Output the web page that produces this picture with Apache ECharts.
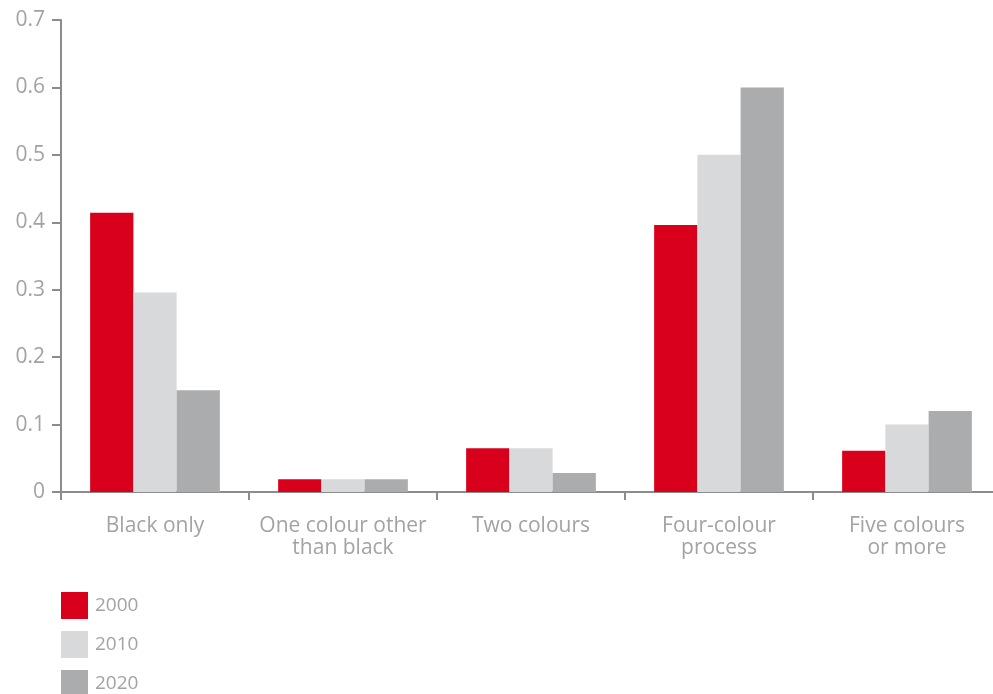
<!DOCTYPE html>
<html><head><meta charset="utf-8">
<script src="https://cdn.jsdelivr.net/npm/echarts@6/dist/echarts.min.js"></script>
<style>html,body{margin:0;padding:0;background:#fff}#c{width:993px;height:694px}</style>
</head><body><div id="c"></div>
<script>
var categories = ['Black only', 'One colour other\nthan black', 'Two colours', 'Four-colour\nprocess', 'Five colours\nor more'];
var seriesNames = ['2000', '2010', '2020'];
var values2000 = [0.414, 0.019, 0.065, 0.396, 0.061];
var values2010 = [0.296, 0.019, 0.065, 0.5, 0.1];
var values2020 = [0.151, 0.019, 0.028, 0.6, 0.12];
var colors = ['#D9001B', '#D8D9DA', '#ABACAE'];
var txt = '#A3A3A3';
var font = 'Open Sans';
var chart = echarts.init(document.getElementById('c'), null, {renderer: 'canvas'});
var data = [values2000, values2010, values2020];
chart.setOption({
  animation: false,
  color: colors,
  grid: {left: 61, width: 940, top: 20, height: 472, containLabel: false, outerBoundsMode: 'none'},
  legend: {
    orient: 'vertical', left: 61, top: 592, height: 130, padding: 0,
    itemWidth: 27, itemHeight: 27, itemGap: 12,
    icon: 'rect', data: seriesNames,
    textStyle: {color: txt, fontSize: 19, fontFamily: font, padding: [0,0,0,2]}
  },
  xAxis: {
    type: 'category', data: categories,
    axisLine: {lineStyle: {color: '#8C8C8C', width: 2}},
    axisTick: {show: true, alignWithLabel: false, length: 8, lineStyle: {color: '#8C8C8C', width: 2}},
    axisLabel: {color: txt, fontSize: 21, fontFamily: font, lineHeight: 22, margin: 23, interval: 0}
  },
  yAxis: {
    type: 'value', min: 0, max: 0.7, interval: 0.1,
    splitLine: {show: false},
    axisLine: {show: true, lineStyle: {color: '#8C8C8C', width: 2}},
    axisTick: {show: true, length: 9, inside: false, lineStyle: {color: '#8C8C8C', width: 2}},
    axisLabel: {color: txt, fontSize: 21, fontFamily: font, margin: 16,
      formatter: function (v) { return v === 0 ? '0' : v.toFixed(1); }}
  },
  series: seriesNames.map(function (n, i) {
    return {name: n, type: 'bar', data: data[i], barGap: '0%', barCategoryGap: '31%',
      itemStyle: {color: colors[i]}};
  })
});
</script></body></html>
